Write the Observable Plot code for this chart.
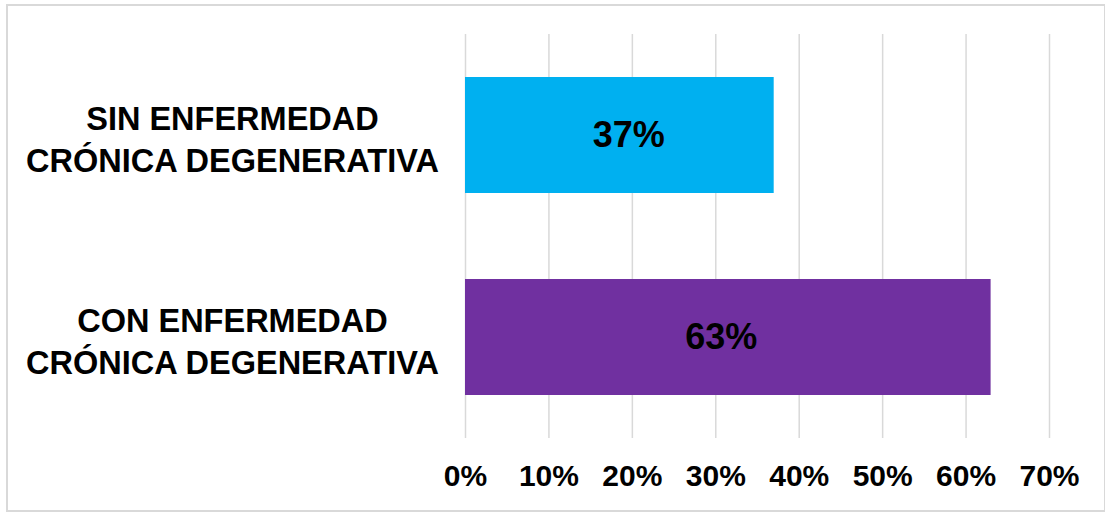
<!DOCTYPE html>
<html>
<head>
<meta charset="utf-8">
<script src="https://cdn.jsdelivr.net/npm/d3@7"></script>
<script src="https://cdn.jsdelivr.net/npm/@observablehq/plot@0.6"></script>
<style>
  html, body { margin: 0; padding: 0; background: #fff; }
  #wrap { position: relative; width: 1105px; height: 512px; overflow: hidden; }
  #border { position: absolute; left: 6px; top: 4px; width: 1096px; height: 504px; border: 2px solid #d9d9d9; pointer-events: none; }
  svg { display: block; }
</style>
</head>
<body>
<div id="wrap"><div id="chart"></div><div id="border"></div></div>
<script>
const categories = ["SIN ENFERMEDAD\nCRÓNICA DEGENERATIVA", "CON ENFERMEDAD\nCRÓNICA DEGENERATIVA"];
const values = [0.37, 0.63];
const barColors = ["#00B0F0", "#7030A0"];
const xTicks = [0, 0.1, 0.2, 0.3, 0.4, 0.5, 0.6, 0.7];
const valueLabels = ["37%", "63%"];

const data = categories.map((c, i) => ({category: c, value: values[i], color: barColors[i], label: valueLabels[i]}));

const labelStyle = {x: d => d.value / 2, y: "category", text: "label", fontSize: 36, fontWeight: "bold", fill: "#000"};

const chart = Plot.plot({
  width: 1105,
  height: 512,
  marginLeft: 465,
  marginRight: 56,
  marginTop: 34,
  marginBottom: 74,
  style: {fontFamily: "'Liberation Sans', Arial, sans-serif", fontWeight: "bold", color: "#000", background: "#fff"},
  x: {domain: [0, 0.7]},
  y: {domain: categories, paddingInner: 0.426, paddingOuter: 0.213},
  marks: [
    Plot.ruleX(xTicks, {stroke: "#d9d9d9", strokeWidth: 1.5, strokeOpacity: 1}),
    Plot.barX(data, {x: "value", y: "category", fill: "color"}),
    Plot.text(data.slice(0, 1), {...labelStyle, dx: 9}),
    Plot.text(data.slice(1, 2), {...labelStyle, dx: -7}),
    Plot.axisX({ticks: xTicks, tickFormat: d => Math.round(d * 100) + "%", tickSize: 0, tickPadding: 26, fontSize: 30, fontWeight: "bold", label: null, fill: "#000"}),
    Plot.axisY({tickSize: 0, tickPadding: 233, textAnchor: "middle", fontSize: 32.5, fontWeight: "bold", lineHeight: 1.31, dy: 2, label: null, fill: "#000"})
  ]
});
document.getElementById("chart").appendChild(chart);
</script>
</body>
</html>
